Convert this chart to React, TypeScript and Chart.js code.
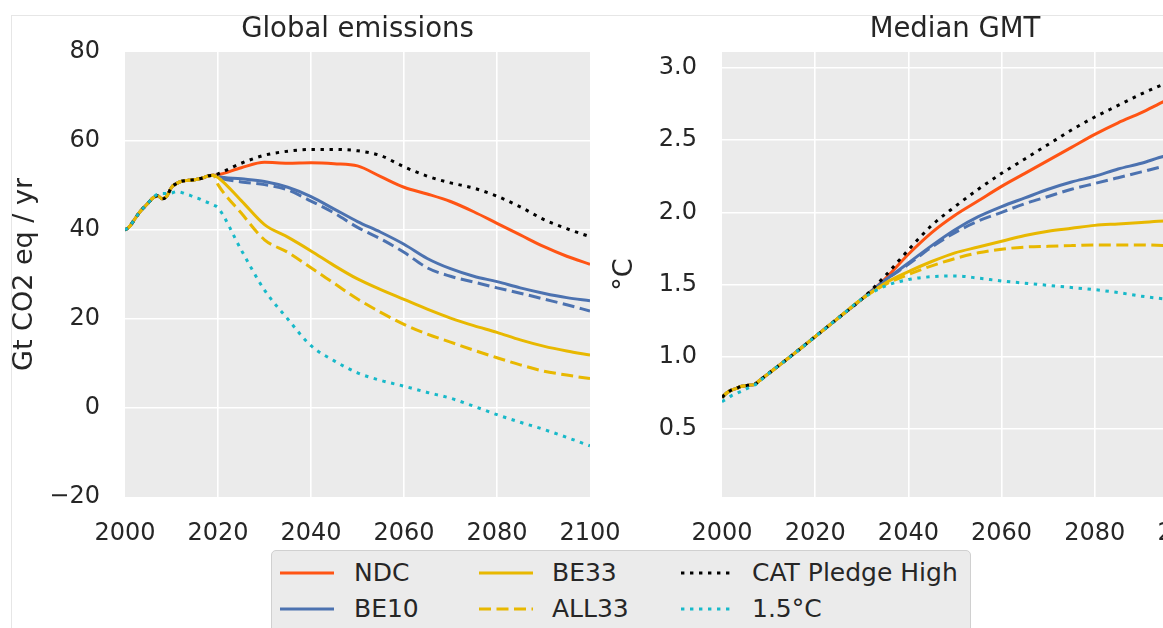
import React, { useEffect, useRef } from "react";
import { Chart, registerables } from "chart.js";

Chart.register(...registerables);

const FONT = "'DejaVu Sans', 'Liberation Sans', sans-serif";
const INK = "#262626";
const PLOT_BG = "#ebebeb";

const C_NDC = "#ff5414";
const C_BE10 = "#4c72b0";
const C_BE33 = "#e8b800";
const C_CAT = "#000000";
const C_15 = "#17b9c9";

const DOT = [3.4, 5.6];
const DASH = [12, 5.5];

// ---------- Global emissions (Gt CO2 eq / yr) ----------
const EMIS_HIST_YEARS = [
  2000, 2001, 2002, 2003, 2004, 2005, 2006, 2007, 2008, 2009,
  2010, 2011, 2012, 2013, 2014, 2015, 2016, 2017, 2018, 2019,
];
const EMIS_HIST = [
  40.0, 40.8, 42.3, 43.8, 45.0, 46.1, 47.2, 47.7, 47.0, 47.6,
  49.6, 50.4, 50.9, 51.1, 51.2, 51.3, 51.5, 51.8, 52.2, 52.3,
];
const EMIS_15_HIST = [
  40.0, 40.8, 42.3, 43.8, 45.0, 46.1, 47.3, 48.0, 48.2, 48.2,
  48.3, 48.6, 48.5, 48.1, 47.8, 47.3, 47.0, 46.5, 46.1, 45.6,
];
const PROJ_YEARS = [
  2020, 2025, 2030, 2035, 2040, 2045, 2050, 2055, 2060,
  2065, 2070, 2075, 2080, 2085, 2090, 2095, 2100,
];
const EMIS_NDC = [52.4, 54.0, 55.2, 55.0, 55.1, 54.9, 54.4, 52.0, 49.6, 48.1, 46.4, 44.1, 41.5, 38.9, 36.3, 34.1, 32.3];
const EMIS_CAT = [52.6, 55.0, 56.8, 57.7, 58.1, 58.1, 57.8, 56.7, 54.2, 52.1, 50.6, 49.4, 47.6, 45.2, 42.4, 40.3, 38.5];
const EMIS_BE10 = [52.0, 51.5, 50.9, 49.6, 47.5, 44.7, 41.9, 39.5, 36.8, 33.6, 31.3, 29.6, 28.4, 27.0, 25.8, 24.8, 24.1];
const EMIS_ALL10 = [51.8, 50.8, 50.2, 49.0, 46.5, 43.8, 40.6, 38.0, 35.0, 31.5, 29.6, 28.3, 27.0, 25.8, 24.5, 23.2, 21.8];
const EMIS_BE33 = [51.8, 46.6, 41.2, 38.4, 35.3, 32.0, 29.0, 26.6, 24.4, 22.2, 20.2, 18.5, 17.0, 15.3, 13.9, 12.8, 11.9];
const EMIS_ALL33 = [50.2, 43.8, 37.8, 35.0, 31.5, 28.0, 24.5, 21.5, 18.8, 16.6, 14.8, 13.0, 11.3, 9.7, 8.3, 7.4, 6.6];
const EMIS_15 = [45.0, 35.5, 26.5, 20.0, 14.0, 10.6, 7.9, 6.2, 4.9, 3.5, 2.2, 0.4, -1.5, -3.2, -4.8, -6.6, -8.5];

// ---------- Median GMT (°C) ----------
const GMT_HIST_YEARS = [2000, 2001, 2002, 2003, 2004, 2005, 2006, 2007, 2008, 2010, 2015, 2020, 2025, 2030];
const GMT_HIST = [0.72, 0.75, 0.77, 0.78, 0.795, 0.80, 0.805, 0.81, 0.835, 0.885, 1.01, 1.14, 1.27, 1.40];
const GMT_15_HIST = [0.69, 0.71, 0.73, 0.745, 0.76, 0.775, 0.79, 0.805, 0.83, 0.885, 1.01, 1.14, 1.27, 1.40];
const GMT_YEARS = [2035, 2040, 2045, 2050, 2055, 2060, 2065, 2070, 2075, 2080, 2085, 2090, 2095, 2100];
const GMT_NDC = [1.54, 1.71, 1.86, 1.98, 2.08, 2.18, 2.27, 2.36, 2.45, 2.54, 2.62, 2.69, 2.77, 2.84];
const GMT_CAT = [1.56, 1.74, 1.91, 2.04, 2.16, 2.27, 2.37, 2.47, 2.57, 2.66, 2.74, 2.82, 2.89, 2.96];
const GMT_BE10 = [1.53, 1.65, 1.77, 1.88, 1.97, 2.04, 2.10, 2.16, 2.21, 2.25, 2.30, 2.34, 2.39, 2.42];
const GMT_ALL10 = [1.53, 1.64, 1.76, 1.86, 1.94, 2.00, 2.06, 2.11, 2.16, 2.20, 2.24, 2.28, 2.32, 2.35];
const GMT_BE33 = [1.51, 1.59, 1.66, 1.72, 1.76, 1.80, 1.84, 1.87, 1.89, 1.91, 1.92, 1.93, 1.94, 1.94];
const GMT_ALL33 = [1.50, 1.57, 1.63, 1.68, 1.72, 1.745, 1.76, 1.765, 1.77, 1.775, 1.775, 1.775, 1.77, 1.765];
const GMT_15 = [1.49, 1.535, 1.555, 1.56, 1.545, 1.525, 1.51, 1.495, 1.48, 1.465, 1.445, 1.42, 1.40, 1.38];

const X_TICKS = [2000, 2020, 2040, 2060, 2080, 2100];
const EMIS_TICKS = [-20, 0, 20, 40, 60, 80];
const GMT_TICKS = [0.5, 1.0, 1.5, 2.0, 2.5, 3.0];

const LEGEND = [
  { label: "NDC", color: C_NDC, dash: [] as number[] },
  { label: "BE10", color: C_BE10, dash: [] as number[] },
  { label: "BE33", color: C_BE33, dash: [] as number[] },
  { label: "ALL33", color: C_BE33, dash: DASH },
  { label: "CAT Pledge High", color: C_CAT, dash: DOT },
  { label: "1.5°C", color: C_15, dash: DOT },
];

function series(years: number[], values: number[]) {
  return years.map((x, i) => ({ x, y: values[i] }));
}

function line(label: string, data: { x: number; y: number }[], color: string, dash: number[], order: number) {
  return {
    label,
    data,
    borderColor: color,
    backgroundColor: color,
    borderWidth: 3,
    borderDash: dash,
    borderCapStyle: "butt" as const,
    pointRadius: 0,
    cubicInterpolationMode: "monotone" as const,
    fill: false,
    order,
  };
}

const plotBackground = {
  id: "plotBackground",
  beforeDraw(chart: any) {
    const { ctx, chartArea } = chart;
    ctx.save();
    ctx.fillStyle = PLOT_BG;
    ctx.fillRect(chartArea.left, chartArea.top, chartArea.right - chartArea.left, chartArea.bottom - chartArea.top);
    ctx.restore();
  },
};

function edgeAwareGrid(min: number, max: number) {
  return (ctx: any) => {
    const v = ctx.tick ? ctx.tick.value : NaN;
    return v === min || v === max ? "rgba(255,255,255,0)" : "#ffffff";
  };
}

function makeOptions(opts: {
  title: string;
  yTitle: string;
  yMin: number;
  yMax: number;
  yTicks: number[];
  yFmt: (v: number) => string;
  yWidth: number;
  padRight: number;
}) {
  return {
    responsive: false,
    animation: false as const,
    layout: { padding: { left: 0, right: opts.padRight, top: 0, bottom: 0 } },
    plugins: {
      legend: { display: false },
      tooltip: { enabled: false },
      title: {
        display: true,
        text: opts.title,
        fullSize: false,
        color: INK,
        font: { family: FONT, size: 27.5, weight: "normal" as const },
        padding: { top: 13, bottom: 6 },
      },
    },
    scales: {
      x: {
        type: "linear" as const,
        min: 2000,
        max: 2100,
        afterBuildTicks: (s: any) => {
          s.ticks = X_TICKS.map((value) => ({ value }));
        },
        afterFit: (s: any) => {
          s.height = 48;
          s.paddingLeft = 0;
          s.paddingRight = 0;
        },
        border: { display: false },
        grid: { color: edgeAwareGrid(2000, 2100), lineWidth: 1.6, drawTicks: false },
        ticks: {
          padding: 22,
          autoSkip: false,
          maxRotation: 0,
          color: INK,
          font: { family: FONT, size: 24 },
          callback: (v: any) => String(v),
        },
      },
      y: {
        type: "linear" as const,
        min: opts.yMin,
        max: opts.yMax,
        afterBuildTicks: (s: any) => {
          s.ticks = opts.yTicks.map((value) => ({ value }));
        },
        afterFit: (s: any) => {
          s.width = opts.yWidth;
          s.paddingTop = 0;
          s.paddingBottom = 0;
        },
        border: { display: false },
        grid: { color: edgeAwareGrid(opts.yMin, opts.yMax), lineWidth: 1.6, drawTicks: false },
        ticks: {
          padding: 25,
          autoSkip: false,
          color: INK,
          font: { family: FONT, size: 24 },
          callback: (v: any) => opts.yFmt(Number(v)),
        },
        title: {
          display: true,
          text: opts.yTitle,
          color: INK,
          font: { family: FONT, size: 27 },
          padding: { top: 9, bottom: 0 },
        },
      },
    },
  };
}

function EmissionsChart() {
  const ref = useRef<HTMLCanvasElement | null>(null);
  useEffect(() => {
    if (!ref.current) return;
    const chart = new Chart(ref.current, {
      type: "line",
      data: {
        datasets: [
          line("NDC", series([...EMIS_HIST_YEARS, ...PROJ_YEARS], [...EMIS_HIST, ...EMIS_NDC]), C_NDC, [], 7),
          line("BE10", series([...EMIS_HIST_YEARS, ...PROJ_YEARS], [...EMIS_HIST, ...EMIS_BE10]), C_BE10, [], 6),
          line("ALL10", series([...EMIS_HIST_YEARS, ...PROJ_YEARS], [...EMIS_HIST, ...EMIS_ALL10]), C_BE10, DASH, 5),
          line("BE33", series([...EMIS_HIST_YEARS, ...PROJ_YEARS], [...EMIS_HIST, ...EMIS_BE33]), C_BE33, [], 4),
          line("ALL33", series([...EMIS_HIST_YEARS, ...PROJ_YEARS], [...EMIS_HIST, ...EMIS_ALL33]), C_BE33, DASH, 3),
          line("CAT Pledge High", series([...EMIS_HIST_YEARS, ...PROJ_YEARS], [...EMIS_HIST, ...EMIS_CAT]), C_CAT, DOT, 2),
          line("1.5°C", series([...EMIS_HIST_YEARS, ...PROJ_YEARS], [...EMIS_15_HIST, ...EMIS_15]), C_15, DOT, 1),
        ],
      },
      options: makeOptions({
        title: "Global emissions",
        yTitle: "Gt CO2 eq / yr",
        yMin: -20,
        yMax: 80,
        yTicks: EMIS_TICKS,
        yFmt: (v) => (v < 0 ? "\u2212" + Math.abs(v) : String(v)),
        yWidth: 125,
        padRight: 30,
      }) as any,
      plugins: [plotBackground],
    });
    return () => chart.destroy();
  }, []);
  return <canvas ref={ref} width={620} height={545} style={{ position: "absolute", left: 0, top: 0 }} />;
}

function TemperatureChart() {
  const ref = useRef<HTMLCanvasElement | null>(null);
  useEffect(() => {
    if (!ref.current) return;
    const chart = new Chart(ref.current, {
      type: "line",
      data: {
        datasets: [
          line("NDC", series([...GMT_HIST_YEARS, ...GMT_YEARS], [...GMT_HIST, ...GMT_NDC]), C_NDC, [], 7),
          line("BE10", series([...GMT_HIST_YEARS, ...GMT_YEARS], [...GMT_HIST, ...GMT_BE10]), C_BE10, [], 6),
          line("ALL10", series([...GMT_HIST_YEARS, ...GMT_YEARS], [...GMT_HIST, ...GMT_ALL10]), C_BE10, DASH, 5),
          line("BE33", series([...GMT_HIST_YEARS, ...GMT_YEARS], [...GMT_HIST, ...GMT_BE33]), C_BE33, [], 4),
          line("ALL33", series([...GMT_HIST_YEARS, ...GMT_YEARS], [...GMT_HIST, ...GMT_ALL33]), C_BE33, DASH, 3),
          line("CAT Pledge High", series([...GMT_HIST_YEARS, ...GMT_YEARS], [...GMT_HIST, ...GMT_CAT]), C_CAT, DOT, 2),
          line("1.5°C", series([...GMT_HIST_YEARS, ...GMT_YEARS], [...GMT_15_HIST, ...GMT_15]), C_15, DOT, 1),
        ],
      },
      options: makeOptions({
        title: "Median GMT",
        yTitle: "°C",
        yMin: 0.03,
        yMax: 3.11,
        yTicks: GMT_TICKS,
        yFmt: (v) => v.toFixed(1),
        yWidth: 122,
        padRight: 12,
      }) as any,
      plugins: [plotBackground],
    });
    return () => chart.destroy();
  }, []);
  return <canvas ref={ref} width={600} height={545} style={{ position: "absolute", left: 600, top: 0 }} />;
}

const COL_X = [279, 478, 680];
const TEXT_X = [353, 551, 751];
const ROW_Y = [572, 608];

function Legend() {
  return (
    <div
      style={{
        position: "absolute",
        left: 271,
        top: 550,
        width: 700,
        height: 100,
        background: "#ebebeb",
        border: "1.5px solid #d0d0d0",
        borderRadius: 5,
        boxSizing: "border-box",
      }}
    >
      {LEGEND.map((item, i) => {
        const col = Math.floor(i / 2);
        const row = i % 2;
        const lineLen = col === 2 ? 50 : 54;
        return (
          <React.Fragment key={item.label}>
            <svg
              width={lineLen}
              height={6}
              style={{ position: "absolute", left: COL_X[col] - 271, top: ROW_Y[row] - 550 - 3 }}
            >
              <line
                x1={0}
                y1={3}
                x2={lineLen}
                y2={3}
                stroke={item.color}
                strokeWidth={3}
                strokeDasharray={item.dash.length ? item.dash.join(" ") : undefined}
              />
            </svg>
            <div
              style={{
                position: "absolute",
                left: TEXT_X[col] - 271,
                top: ROW_Y[row] - 550 - 15,
                height: 30,
                lineHeight: "30px",
                fontFamily: FONT,
                fontSize: 25,
                color: INK,
                whiteSpace: "nowrap",
              }}
            >
              {item.label}
            </div>
          </React.Fragment>
        );
      })}
    </div>
  );
}

export default function App() {
  return (
    <div
      style={{
        position: "fixed",
        left: 0,
        top: 0,
        width: 1163,
        height: 628,
        overflow: "hidden",
        background: "#ffffff",
      }}
    >
      <div
        style={{
          position: "absolute",
          left: 11,
          top: 15,
          width: 1300,
          height: 800,
          borderLeft: "1px solid #e6e6e6",
          borderTop: "1px solid #e6e6e6",
          background: "#ffffff",
        }}
      />
      <EmissionsChart />
      <TemperatureChart />
      <Legend />
    </div>
  );
}
